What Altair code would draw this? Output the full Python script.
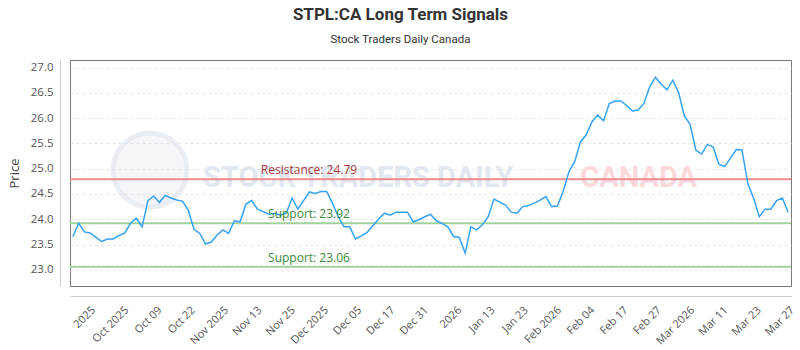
import altair as alt
import pandas as pd

# ---- data ----
prices = [
    23.66, 23.92, 23.75, 23.73, 23.64, 23.56, 23.61, 23.61, 23.68, 23.73,
    23.92, 24.02, 23.85, 24.37, 24.46, 24.33, 24.47, 24.42, 24.38, 24.36,
    24.18, 23.80, 23.72, 23.51, 23.55,
    23.69, 23.79, 23.72, 23.97, 23.95, 24.30, 24.37, 24.20, 24.15, 24.10,
    24.12, 24.08, 24.12, 24.42, 24.20, 24.37, 24.54, 24.51, 24.55, 24.55,
    24.32, 24.05, 23.85, 23.85, 23.61,
    23.67, 23.74, 23.87, 24.00, 24.12, 24.08, 24.14, 24.14, 24.14, 23.95,
    23.99, 24.05, 24.10, 23.97, 23.92, 23.85, 23.66, 23.64, 23.33, 23.85,
    23.79, 23.89, 24.05, 24.40, 24.34,
    24.28, 24.14, 24.12, 24.25, 24.27, 24.32, 24.38, 24.45, 24.25, 24.26,
    24.55, 24.94, 25.14, 25.53, 25.67, 25.93, 26.06, 25.95, 26.29, 26.34,
    26.34, 26.25, 26.14, 26.16, 26.29, 26.62,
    26.81, 26.67, 26.56, 26.75, 26.51, 26.05, 25.88, 25.37, 25.29, 25.48,
    25.43, 25.09, 25.04, 25.21, 25.38, 25.37, 24.71, 24.42, 24.05, 24.20,
    24.20, 24.37, 24.42, 24.14,
]

tick_labels = ["2025", "Oct 2025", "Oct 09", "Oct 22", "Nov 2025", "Nov 13",
               "Nov 25", "Dec 2025", "Dec 05", "Dec 17", "Dec 31", "2026",
               "Jan 13", "Jan 23", "Feb 2026", "Feb 04", "Feb 17", "Feb 27",
               "Mar 2026", "Mar 11", "Mar 23", "Mar 27"]

level_kinds = ["Resistance", "Support", "Support"]
level_values = [24.79, 23.92, 23.06]

y_ticks = [23.0, 23.5, 24.0, 24.5, 25.0, 25.5, 26.0, 26.5, 27.0]

# ---- tables ----
n = len(prices)
df = pd.DataFrame({"i": list(range(n)), "price": prices})
levels = pd.DataFrame({
    "kind": level_kinds,
    "price": level_values,
    "label": [f"{k}: {v:.2f}" for k, v in zip(level_kinds, level_values)],
})

# tick placement (evenly spaced labels, last on the last point)
first_tick = 2.8
step = (n - 1 - first_tick) / (len(tick_labels) - 1)
tick_pos = [first_tick + k * step for k in range(len(tick_labels))]
label_expr = ("[" + ",".join(f"'{t}'" for t in tick_labels) + "]"
              f"[round((datum.value - {first_tick}) / {step})]")

W, H = 721, 226
LABEL_FONT = "Open Sans"

x_enc = alt.X(
    "i:Q",
    scale=alt.Scale(domain=[-0.5, n - 0.5], nice=False, zero=False),
    axis=alt.Axis(values=tick_pos, labelExpr=label_expr, labelAngle=-45,
                  offset=10, domainColor="#cccccc", ticks=False, grid=False,
                  labelPadding=8, labelFont=LABEL_FONT, labelFontSize=11,
                  labelColor="#555555", labelOverlap=False),
    title=None,
)
y_scale = alt.Scale(domain=[22.68, 27.15], nice=False, zero=False)
y_axis = alt.Axis(values=y_ticks, format=".1f", offset=10,
                  domainColor="#cccccc", ticks=False, labelPadding=7,
                  labelFont=LABEL_FONT, labelFontSize=11.5,
                  labelColor="#555555", labelOverlap=False,
                  grid=True, gridColor="#e4e4e4",
                  gridDash=[3, 3], titleFont=LABEL_FONT, titleFontSize=13,
                  titleFontWeight="normal", titleColor="#444444",
                  titlePadding=9)
y_enc = alt.Y("price:Q", scale=y_scale, axis=y_axis, title="Price")

# ---- watermark (decoration) ----
one = pd.DataFrame({"a": [0]})
wm_circle = alt.Chart(one).mark_circle(
    size=5500, color="#dfe5ef", opacity=0.35
).encode(x=alt.value(80), y=alt.value(110))
wm_ring = alt.Chart(one).mark_point(
    size=5500, shape="circle", filled=False, color="#dfe5ef",
    strokeWidth=5, opacity=0.6
).encode(x=alt.value(80), y=alt.value(110))
wm_text1 = alt.Chart(pd.DataFrame({"t": ["STOCK TRADERS DAILY"]})).mark_text(
    font="Roboto", fontWeight="bold", fontSize=29, color="#e2e7f0",
    align="left", baseline="middle"
).encode(x=alt.value(133), y=alt.value(118), text="t:N")
wm_text2 = alt.Chart(pd.DataFrame({"t": ["CANADA"]})).mark_text(
    font="Roboto", fontWeight="bold", fontSize=29, color="#fcd9dc",
    align="right", baseline="middle"
).encode(x=alt.value(627), y=alt.value(118), text="t:N")

# ---- level lines and labels ----
level_color = alt.condition(alt.datum.kind == "Resistance",
                            alt.value("#ec8a8d"), alt.value("#9fd39c"))
text_color = alt.condition(alt.datum.kind == "Resistance",
                           alt.value("#a83a3a"), alt.value("#3b8a3b"))

rules = alt.Chart(levels).mark_rule(strokeWidth=2).encode(
    y=y_enc, color=level_color)

texts = alt.Chart(levels).mark_text(
    fontSize=12, font=LABEL_FONT, align="center", baseline="middle", dy=-9
).encode(x=alt.value(239), y=y_enc, text="label:N", color=text_color)

line = alt.Chart(df).mark_line(color="#35a2f4", strokeWidth=1.5).encode(
    x=x_enc, y=y_enc)

chart = alt.layer(
    wm_circle, wm_ring, wm_text1, wm_text2, rules, line, texts
).properties(
    width=W, height=H,
    autosize=alt.AutoSizeParams(type="none"),
    padding={"left": 70, "top": 60, "right": 9, "bottom": 64},
    title=alt.TitleParams(
        text="STPL:CA Long Term Signals",
        subtitle="Stock Traders Daily Canada",
        anchor="middle", frame="group", dx=-30, offset=14,
        font="Roboto", fontSize=17, fontWeight="bold", color="#333333",
        subtitleFont="Roboto", subtitleFontSize=11.5,
        subtitleColor="#333333", subtitlePadding=10,
    ),
).configure_view(stroke="#777777", strokeWidth=1)

chart.save("out.html", embed_options={"renderer": "svg", "actions": False})
